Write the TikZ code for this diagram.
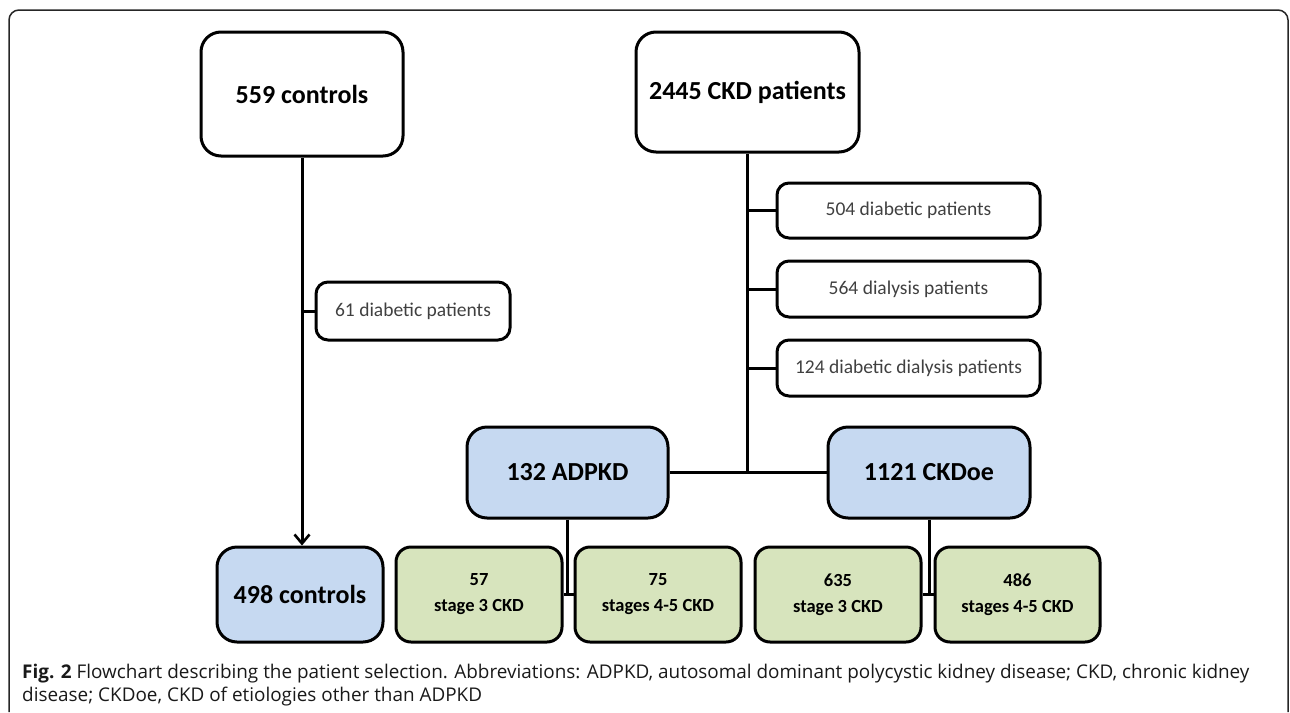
\documentclass[tikz,border=0pt]{standalone}
\usepackage{fontspec}
\setmainfont{Carlito}
\newfontfamily\capfont{Open Sans}
\usetikzlibrary{arrows.meta}
\definecolor{boxblue}{HTML}{C6D9F1}
\definecolor{boxgreen}{HTML}{D7E4BD}
\definecolor{sidetext}{HTML}{404040}
\begin{document}
\begin{tikzpicture}[x=1pt,y=-1pt,
  basebox/.style={draw=black, line width=3pt, inner sep=0pt, align=center},
  bigbox/.style={basebox, rounded corners=20pt, font=\bfseries\fontsize{26}{30}\selectfont},
  sidebox/.style={basebox, rounded corners=12pt, text=sidetext, font=\fontsize{19.5}{24}\selectfont},
  greenbox/.style={basebox, rounded corners=15pt, fill=boxgreen, font=\bfseries\fontsize{18.5}{26}\selectfont},
  conn/.style={draw=black, line width=3pt},
  captext/.style={anchor=base west, inner sep=0pt, text=black!90, font=\capfont\fontsize{18.9}{22}\selectfont}]
\useasboundingbox (0,0) rectangle (1290,712);
% frame
\draw[line width=1.5pt, rounded corners=10pt, color=black!85] (9,712) -- (9,10) -- (1288,10) -- (1288,712);
% controls branch
\node[bigbox, minimum width=202, minimum height=124] (c559) at (302,94) {559 controls};
\node[sidebox, minimum width=194, minimum height=58] (d61) at (413,311) {61 diabetic patients};
\node[bigbox, fill=boxblue, minimum width=166, minimum height=95] (c498) at (300,594.5) {498 controls};
% CKD branch
\node[bigbox, minimum width=223, minimum height=120] (c2445) at (747.5,92) {2445 CKD patients};
\node[sidebox, minimum width=263, minimum height=55] (s504) at (908.5,210.5) {504 diabetic patients};
\node[sidebox, minimum width=263, minimum height=56] (s564) at (908.5,289) {564 dialysis patients};
\node[sidebox, minimum width=263, minimum height=56] (s124) at (908.5,368) {124 diabetic dialysis patients};
\node[bigbox, fill=boxblue, minimum width=201, minimum height=91] (adpkd) at (567.5,472.5) {132 ADPKD};
\node[bigbox, fill=boxblue, minimum width=202, minimum height=91] (ckdoe) at (929,472.5) {1121 CKDoe};
% green boxes
\node[greenbox, minimum width=166, minimum height=95] (g57) at (479,594.5) {57\\stage 3 CKD};
\node[greenbox, minimum width=166, minimum height=95] (g75) at (658,594.5) {75\\stages 4-5 CKD};
\node[greenbox, minimum width=166, minimum height=95] (g635) at (838,594.5) {635\\stage 3 CKD};
\node[greenbox, minimum width=165, minimum height=95] (g486) at (1017.5,594.5) {486\\stages 4-5 CKD};
% connectors
\draw[conn, -{Straight Barb[length=9pt,width=15pt,line width=2.6pt]}] (c559.south) -- (c559.south |- c498.north);
\draw[conn] (c559.south |- d61.west) -- (d61.west);
\draw[conn] (c2445.south) -- (c2445.south |- adpkd.east);
\draw[conn] (adpkd.east) -- (ckdoe.west);
\draw[conn] (c2445.south |- s504.west) -- (s504.west);
\draw[conn] (c2445.south |- s564.west) -- (s564.west);
\draw[conn] (c2445.south |- s124.west) -- (s124.west);
\draw[conn] (adpkd.south) -- (adpkd.south |- g57.east);
\draw[conn] (g57.east) -- (g75.west);
\draw[conn] (ckdoe.south) -- (ckdoe.south |- g635.east);
\draw[conn] (g635.east) -- (g486.west);
% caption
\node[captext] (cap1) at (22,678) {\textbf{Fig. 2} Flowchart describing the patient selection. Abbreviations: ADPKD, autosomal dominant polycystic kidney disease; CKD, chronic kidney};
\node[captext] (cap2) at (22,701) {disease; CKDoe, CKD of etiologies other than ADPKD};
\end{tikzpicture}
\end{document}
